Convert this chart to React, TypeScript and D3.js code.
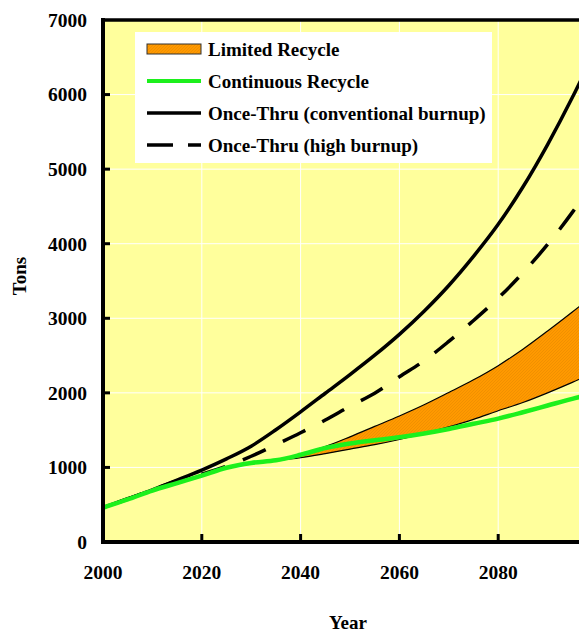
import React from "react";
import * as d3 from "d3";

// Spent-fuel inventory projections (tons), sampled every 5 years
const years = [
  2000, 2005, 2010, 2015, 2020, 2025, 2030, 2035, 2040, 2045, 2050,
  2055, 2060, 2065, 2070, 2075, 2080, 2085, 2090, 2095, 2100,
];
const onceThruConventional = [
  460, 580, 700, 830, 965, 1115, 1285, 1505, 1745, 1995, 2245,
  2505, 2785, 3095, 3440, 3830, 4260, 4760, 5330, 5960, 6650,
];
const onceThruHigh = [
  460, 575, 700, 820, 910, 1015, 1150, 1305, 1465, 1635, 1820,
  1995, 2215, 2430, 2690, 2970, 3270, 3610, 3990, 4420, 4900,
];
const continuousRecycle = [
  460, 570, 690, 790, 890, 995, 1060, 1095, 1170, 1260, 1320,
  1365, 1405, 1455, 1515, 1585, 1655, 1740, 1830, 1920, 2000,
];

// Limited recycle range (band between lower and upper estimates)
const limitedYears = [
  2035, 2040, 2045, 2050, 2055, 2060, 2065, 2070, 2075, 2080, 2085, 2090, 2095, 2100,
];
const limitedUpper = [
  1095, 1180, 1280, 1410, 1550, 1690, 1840, 2005, 2175, 2365, 2585, 2830, 3085, 3350,
];
const limitedLower = [
  1090, 1130, 1185, 1245, 1305, 1375, 1455, 1545, 1645, 1760, 1870, 2000, 2140, 2290,
];

const yTicks = [0, 1000, 2000, 3000, 4000, 5000, 6000, 7000];
const xTicks = [2000, 2020, 2040, 2060, 2080, 2100];
const xTickLabels = ["2000", "2020", "2040", "2060", "2080"];

const legendLabels = [
  "Limited Recycle",
  "Continuous Recycle",
  "Once-Thru (conventional burnup)",
  "Once-Thru (high burnup)",
];

const W = 579;
const H = 633;
const FONT = "'Liberation Serif', 'Times New Roman', serif";

export default function App() {
  const x = d3.scaleLinear().domain([2000, 2100]).range([103, 597]);
  const y = d3.scaleLinear().domain([0, 7000]).range([542, 20]);

  const toPts = (vals: number[]) => years.map((yr, i) => [yr, vals[i]] as [number, number]);

  const line = d3
    .line<[number, number]>()
    .x((d) => x(d[0]))
    .y((d) => y(d[1]))
    .curve(d3.curveMonotoneX);

  const bandData = limitedYears.map((yr, i) => ({ yr, lo: limitedLower[i], hi: limitedUpper[i] }));
  const area = d3
    .area<{ yr: number; lo: number; hi: number }>()
    .x((d) => x(d.yr))
    .y0((d) => y(d.lo))
    .y1((d) => y(d.hi))
    .curve(d3.curveMonotoneX);
  const upperLine = d3
    .line<{ yr: number; lo: number; hi: number }>()
    .x((d) => x(d.yr))
    .y((d) => y(d.hi))
    .curve(d3.curveMonotoneX);
  const lowerLine = d3
    .line<{ yr: number; lo: number; hi: number }>()
    .x((d) => x(d.yr))
    .y((d) => y(d.lo))
    .curve(d3.curveMonotoneX);

  const [x0, x1] = x.range();
  const [yb, yt] = y.range();

  const legendX = 135;
  const legendY = 32;
  const rowH = 32;
  const swatchX0 = 147;
  const swatchX1 = 201;
  const textX = 208;

  return (
    <div style={{ position: "absolute", left: 0, top: 0 }}>
      <svg width={W} height={H} style={{ display: "block", background: "#ffffff" }}>
        <defs>
          <pattern id="orangeTex" width="3" height="3" patternUnits="userSpaceOnUse">
            <rect width="3" height="3" fill="#ff9900" />
            <path d="M0,3 L3,0" stroke="#e88a00" strokeWidth="0.6" />
          </pattern>
          <clipPath id="plotClip">
            <rect x={x0} y={yt} width={x1 - x0} height={yb - yt} />
          </clipPath>
        </defs>

        {/* plot background */}
        <rect x={x0} y={yt} width={x1 - x0} height={yb - yt} fill="#ffff9c" />

        {/* gridlines */}
        {yTicks
          .filter((t) => t > 0 && t < 7000)
          .map((t) => (
            <line key={`gy${t}`} x1={x0} x2={x1} y1={y(t)} y2={y(t)} stroke="#ffffff" strokeWidth={1} />
          ))}
        {xTicks
          .filter((t) => t > 2000)
          .map((t) => (
            <line key={`gx${t}`} x1={x(t)} x2={x(t)} y1={yt} y2={yb} stroke="#ffffff" strokeWidth={1} />
          ))}

        {/* legend box */}
        <rect x={legendX} y={legendY} width={357} height={131} fill="#ffffff" />

        <g clipPath="url(#plotClip)">
          {/* limited recycle band */}
          <path d={area(bandData) || ""} fill="url(#orangeTex)" />
          <path d={upperLine(bandData) || ""} fill="none" stroke="#000" strokeWidth={1.2} />
          <path d={lowerLine(bandData) || ""} fill="none" stroke="#000" strokeWidth={1.2} />

          {/* once-through, high burnup */}
          <path
            d={line(toPts(onceThruHigh)) || ""}
            fill="none"
            stroke="#000"
            strokeWidth={3.5}
            strokeDasharray="25 19"
            strokeDashoffset={-60}
          />
          {/* once-through, conventional burnup */}
          <path d={line(toPts(onceThruConventional)) || ""} fill="none" stroke="#000" strokeWidth={3.5} />
          {/* continuous recycle */}
          <path d={line(toPts(continuousRecycle)) || ""} fill="none" stroke="#1cf01c" strokeWidth={4.5} />
        </g>

        {/* legend entries */}
        <g fontFamily={FONT} fontWeight="bold" fontSize={19} fill="#000">
          <rect
            x={swatchX0}
            y={legendY + 12}
            width={swatchX1 - swatchX0}
            height={10}
            fill="url(#orangeTex)"
            stroke="#333"
            strokeWidth={1}
          />
          <line
            x1={swatchX0}
            x2={swatchX1}
            y1={legendY + 17 + rowH}
            y2={legendY + 17 + rowH}
            stroke="#1cf01c"
            strokeWidth={4}
          />
          <line
            x1={swatchX0}
            x2={swatchX1}
            y1={legendY + 17 + rowH * 2}
            y2={legendY + 17 + rowH * 2}
            stroke="#000"
            strokeWidth={3.5}
          />
          <line
            x1={swatchX0}
            x2={swatchX1}
            y1={legendY + 17 + rowH * 3}
            y2={legendY + 17 + rowH * 3}
            stroke="#000"
            strokeWidth={3.5}
            strokeDasharray="26 15"
          />
          {legendLabels.map((lab, i) => (
            <text key={lab} x={textX} y={legendY + 17 + rowH * i} dy="0.35em">
              {lab}
            </text>
          ))}
        </g>

        {/* axes frame */}
        <line x1={x0} x2={x0} y1={yt - 2} y2={yb + 2} stroke="#000" strokeWidth={4} />
        <line x1={x0 - 2} x2={x1} y1={yb} y2={yb} stroke="#000" strokeWidth={4} />
        <line x1={x0 - 2} x2={x1} y1={yt} y2={yt} stroke="#000" strokeWidth={3.5} />

        {/* tick marks */}
        {yTicks
          .filter((t) => t > 0 && t < 7000)
          .map((t) => (
            <line key={`ty${t}`} x1={x0} x2={x0 + 7} y1={y(t)} y2={y(t)} stroke="#000" strokeWidth={3} />
          ))}
        {xTicks
          .filter((t) => t > 2000)
          .map((t) => (
            <line key={`tx${t}`} x1={x(t)} x2={x(t)} y1={yb} y2={yb - 8} stroke="#000" strokeWidth={3} />
          ))}

        {/* tick labels */}
        <g fontFamily={FONT} fontWeight="bold" fontSize={19.5} fill="#000">
          {yTicks.map((t) => (
            <text key={`ly${t}`} x={87} y={y(t)} dy="0.35em" textAnchor="end">
              {t}
            </text>
          ))}
          {xTickLabels.map((lab) => (
            <text key={`lx${lab}`} x={x(+lab)} y={579} textAnchor="middle">
              {lab}
            </text>
          ))}
        </g>

        {/* axis titles */}
        <g fontFamily={FONT} fontWeight="bold" fontSize={19} fill="#000">
          <text x={348} y={629} textAnchor="middle">
            Year
          </text>
          <text transform="translate(26,276) rotate(-90)" textAnchor="middle">
            Tons
          </text>
        </g>
      </svg>
    </div>
  );
}
